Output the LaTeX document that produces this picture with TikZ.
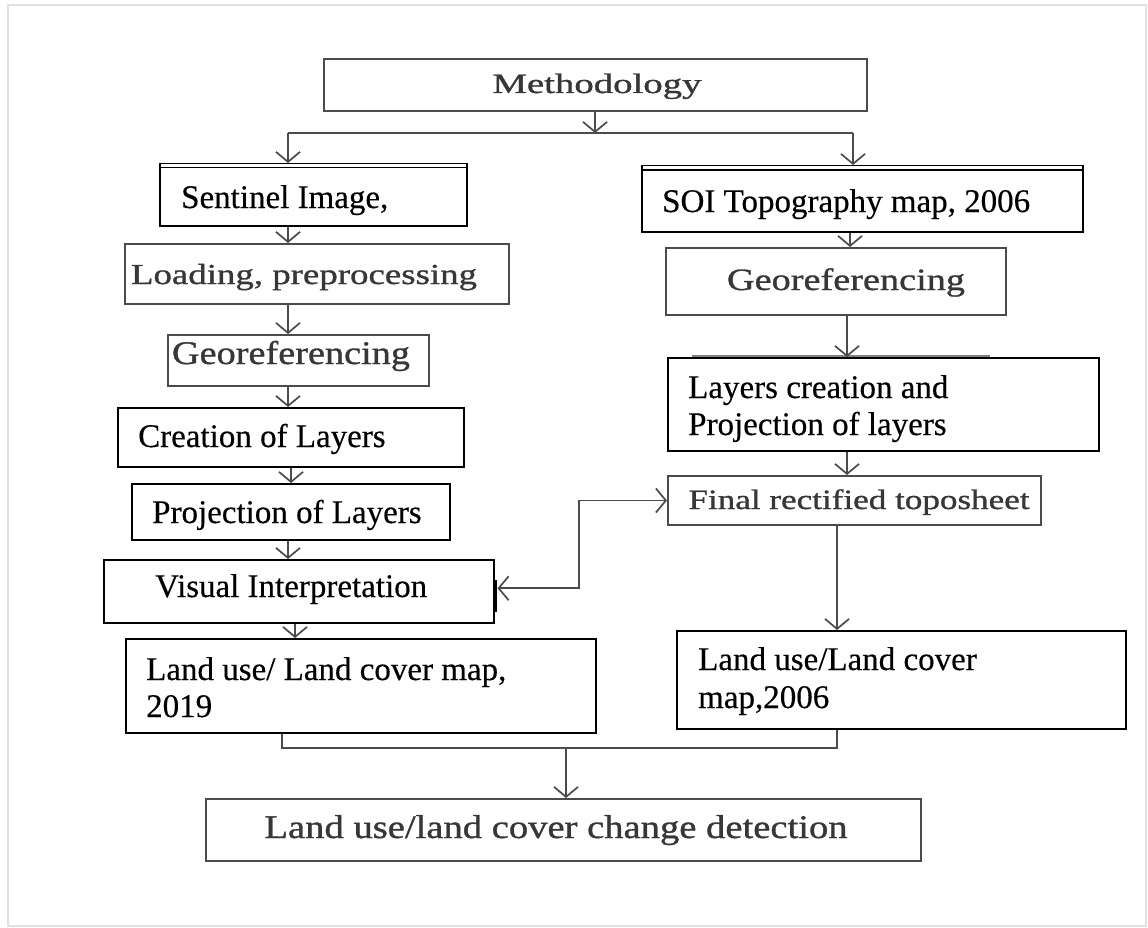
\documentclass[tikz,border=0pt]{standalone}
\usepackage{fontspec}
\setmainfont{Liberation Serif}
\newfontfamily\grayfont[FakeBold=0.9]{Liberation Serif}
\newfontfamily\blackfont[FakeBold=0.35]{Liberation Serif}
\usetikzlibrary{arrows.meta,calc}
\definecolor{gline}{RGB}{75,75,75}
\definecolor{gtxt}{RGB}{55,55,55}
\definecolor{framec}{RGB}{225,225,225}
\newcommand\gtx[3]{{\grayfont\fontsize{#1}{#1}\selectfont\resizebox{#2pt}{\height}{#3}}}
\tikzset{
 bbox/.style={draw=black, line width=1.5pt, inner sep=0pt, anchor=north west},
 thickbox/.style={bbox, line width=2.3pt},
 gbox/.style={draw=gline, line width=2pt, inner sep=0pt, anchor=north west},
 btxt/.style={inner sep=0pt, anchor=base west, font=\blackfont\fontsize{33}{37}\selectfont, text=black},
 gtxtn/.style={inner sep=0pt, anchor=base, text=gtxt},
 conn/.style={draw=gline, line width=1.7pt},
 arr/.style={conn, -{Straight Barb[length=10pt,width=24pt]}},
 darr/.style={conn, {Straight Barb[length=10pt,width=24pt]}-{Straight Barb[length=10pt,width=24pt]}},
}
\begin{document}
\begin{tikzpicture}[x=1pt,y=-1pt]
\useasboundingbox (0,0) rectangle (1148,928);
\draw[framec, line width=2pt] (8,5) rectangle (1146,926);

% ---- boxes
\node[gbox, minimum width=543pt, minimum height=52pt] (meth) at (323,58) {};
\node[bbox, minimum width=307pt, minimum height=62pt] (sent) at (159,163) {};
\node[bbox, minimum width=441pt, minimum height=66pt] (soi) at (641,165) {};
\node[gbox, minimum width=384pt, minimum height=60pt] (load) at (124,243) {};
\node[gbox, minimum width=261pt, minimum height=51pt] (geol) at (167,334) {};
\node[gbox, minimum width=340pt, minimum height=67pt] (geor) at (665,247) {};
\node[bbox, minimum width=346pt, minimum height=59pt] (creat) at (117,407) {};
\node[bbox, minimum width=318pt, minimum height=56pt] (proj) at (131,483) {};
\node[bbox, minimum width=390pt, minimum height=63pt] (vis) at (103,559) {};
\node[thickbox, minimum width=470pt, minimum height=94pt] (lu19) at (125,638) {};
\node[bbox, minimum width=431pt, minimum height=93pt] (layers) at (667,357) {};
\node[gbox, minimum width=373pt, minimum height=49pt] (final) at (667,475) {};
\node[thickbox, minimum width=449pt, minimum height=98pt] (lu06) at (676,630) {};
\node[gbox, minimum width=715pt, minimum height=62pt] (detect) at (205,798) {};

% double top lines
\draw[black, line width=1.3pt] ($(sent.north west)+(0,4.5)$) -- ($(sent.north east)+(0,4.5)$);
\draw[black, line width=1.3pt] ($(soi.north west)+(0,5)$) -- ($(soi.north east)+(0,5)$);
% small artefacts of the original
\draw[gline!70, line width=1.4pt] ($(layers.north west)+(25,-1)$) -- ($(layers.north west)+(323,-1)$);
\draw[black, line width=2.2pt] ($(vis.north east)+(1,21)$) -- ($(vis.north east)+(1,53)$);

% ---- texts
\node[gtxtn] (methT) at (597,93) {\gtx{28}{209}{Methodology}};
\node[gtxtn] (loadT) at (304,284) {\gtx{29}{346}{Loading, preprocessing}};
\node[gtxtn] (geolT) at (291,364) {\gtx{33}{238}{Georeferencing}};
\node[gtxtn] (georT) at (846,290) {\gtx{31}{238}{Georeferencing}};
\node[gtxtn] (finalT) at (859,509) {\gtx{28}{341}{Final rectified toposheet}};
\node[gtxtn] (detectT) at (556,838) {\gtx{33}{583}{Land use/land cover change detection}};

\node[btxt] (sentT) at (181,208) {Sentinel Image,};
\node[btxt] (soiT) at (662,212) {SOI Topography map, 2006};
\node[btxt] (creatT) at (138,447) {Creation of Layers};
\node[btxt] (projT) at (152,523) {Projection of Layers};
\node[btxt] (visT) at (155,597) {Visual Interpretation};
\node[btxt] (lu19a) at (146,680) {Land use/ Land cover map,};
\node[btxt] (lu19b) at (146,717) {2019};
\node[btxt] (layA) at (688,398) {Layers creation and};
\node[btxt] (layB) at (688,435) {Projection of layers};
\node[btxt] (lu06a) at (698,670) {Land use/Land cover};
\node[btxt] (lu06b) at (698,708) {map,2006};

% ---- connectors
\coordinate (top) at (595,133);
\coordinate (jl) at (288,133);
\coordinate (jr) at (853,133);
\draw[arr] (meth.south -| top) -- (top);
\draw[conn] (jl) -- (jr);
\draw[arr] (jl) -- (sent.north -| jl);
\draw[arr] (jr) -- (soi.north -| jr);

\coordinate (lc) at (288,0);
\coordinate (lc2) at (291,0);
\coordinate (lc3) at (295,0);
\draw[arr] (sent.south -| lc) -- (load.north -| lc);
\draw[arr] (load.south -| lc) -- (geol.north -| lc);
\draw[arr] (geol.south -| lc) -- (creat.north -| lc);
\draw[arr] (creat.south -| lc2) -- (proj.north -| lc2);
\draw[arr] (proj.south -| lc) -- (vis.north -| lc);
\draw[arr] (vis.south -| lc3) -- (lu19.north -| lc3);

\coordinate (rc1) at (850,0);
\coordinate (rc2) at (847,0);
\coordinate (rc3) at (837,0);
\draw[arr] (soi.south -| rc1) -- (geor.north -| rc1);
\draw[arr] (geor.south -| rc2) -- (layers.north -| rc2);
\draw[arr] (layers.south -| rc2) -- (final.north -| rc2);
\draw[arr] (final.south -| rc3) -- (lu06.north -| rc3);

\coordinate (bx) at (579,0);
\draw[darr] ([xshift=3pt,yshift=3pt]vis.east) -| (bx |- final.west) -- (final.west);

\coordinate (b1) at (282,748);
\coordinate (b2) at (837,748);
\coordinate (b3) at (566,748);
\draw[conn] (lu19.south -| b1) -- (b1) -- (b2) -- (lu06.south -| b2);
\draw[arr] (b3) -- (detect.north -| b3);
\end{tikzpicture}
\end{document}
